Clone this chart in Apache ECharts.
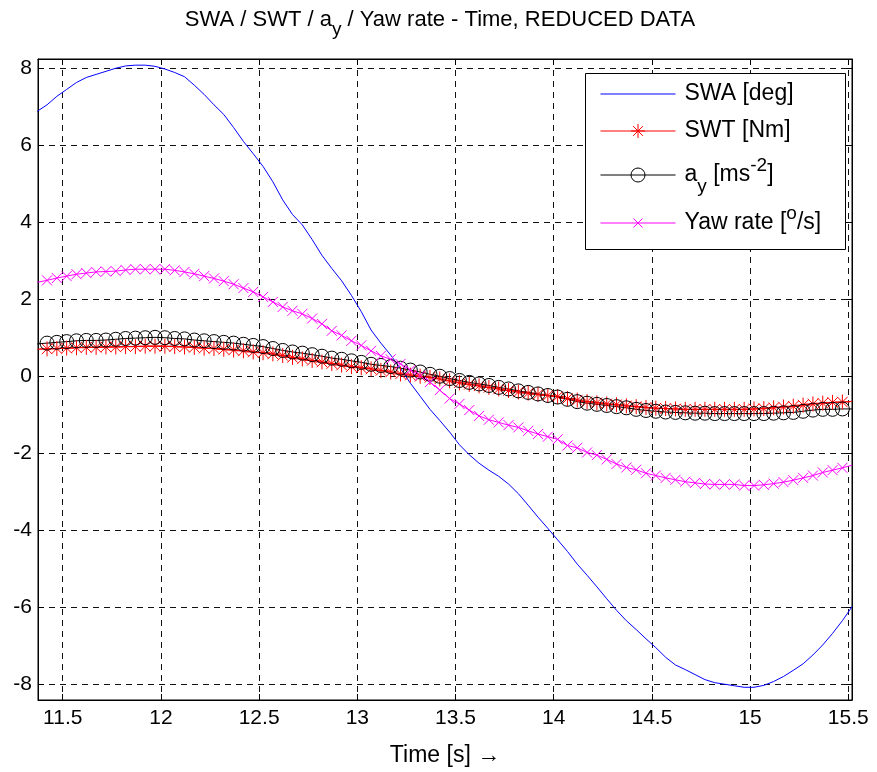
<!DOCTYPE html>
<html>
<head>
<meta charset="utf-8">
<title>SWA / SWT / ay / Yaw rate - Time</title>
<script src="https://cdn.jsdelivr.net/npm/echarts@6/dist/echarts.min.js"></script>
<style>
  html, body { margin: 0; padding: 0; background: #fff; }
  #chart { width: 877px; height: 772px; }
</style>
</head>
<body>
<div id="chart"></div>
<script>
// sample times [s], one every 0.05 s
const time = [
  11.37, 11.42, 11.47, 11.52, 11.57, 11.62, 11.67, 11.72, 11.77, 11.82,
  11.87, 11.92, 11.97, 12.02, 12.07, 12.12, 12.17, 12.22, 12.27, 12.32,
  12.37, 12.42, 12.47, 12.52, 12.57, 12.62, 12.67, 12.72, 12.77, 12.82,
  12.87, 12.92, 12.97, 13.02, 13.07, 13.12, 13.17, 13.22, 13.27, 13.32,
  13.37, 13.42, 13.47, 13.52, 13.57, 13.62, 13.67, 13.72, 13.77, 13.82,
  13.87, 13.92, 13.97, 14.02, 14.07, 14.12, 14.17, 14.22, 14.27, 14.32,
  14.37, 14.42, 14.47, 14.52, 14.57, 14.62, 14.67, 14.72, 14.77, 14.82,
  14.87, 14.92, 14.97, 15.02, 15.07, 15.12, 15.17, 15.22, 15.27, 15.32,
  15.37, 15.42, 15.47, 15.52
];

// steering wheel angle [deg]
const swa = [
  6.88, 7.05, 7.27, 7.45, 7.63, 7.76, 7.84, 7.92, 8.00, 8.06,
  8.08, 8.08, 8.05, 7.98, 7.89, 7.78, 7.56, 7.32, 7.05, 6.80,
  6.46, 6.10, 5.78, 5.45, 5.05, 4.58, 4.20, 3.93, 3.55, 3.14,
  2.80, 2.48, 2.10, 1.68, 1.20, 0.86, 0.55, 0.20, -0.18, -0.52,
  -0.86, -1.15, -1.45, -1.78, -2.04, -2.26, -2.44, -2.60, -2.80, -3.05,
  -3.35, -3.66, -3.95, -4.25, -4.55, -4.88, -5.17, -5.47, -5.78, -6.08,
  -6.35, -6.58, -6.82, -7.05, -7.30, -7.50, -7.62, -7.75, -7.88, -7.96,
  -8.00, -8.04, -8.08, -8.08, -8.03, -7.93, -7.80, -7.64, -7.47, -7.24,
  -6.98, -6.68, -6.35, -5.98
];

// steering wheel torque [Nm]
const swt = [
  0.70, 0.71, 0.72, 0.73, 0.74, 0.75, 0.75, 0.76, 0.76, 0.77,
  0.77, 0.78, 0.78, 0.78, 0.77, 0.76, 0.75, 0.73, 0.72, 0.70,
  0.68, 0.66, 0.63, 0.61, 0.58, 0.54, 0.49, 0.45, 0.41, 0.37,
  0.33, 0.29, 0.25, 0.22, 0.19, 0.15, 0.11, 0.06, 0.03, 0.00,
  -0.03, -0.07, -0.12, -0.17, -0.21, -0.25, -0.29, -0.33, -0.37, -0.41,
  -0.44, -0.47, -0.50, -0.53, -0.58, -0.62, -0.66, -0.69, -0.72, -0.74,
  -0.77, -0.79, -0.81, -0.83, -0.84, -0.85, -0.86, -0.86, -0.86, -0.86,
  -0.86, -0.86, -0.86, -0.85, -0.84, -0.82, -0.80, -0.78, -0.75, -0.72,
  -0.70, -0.68, -0.67, -0.65
];

// lateral acceleration [m/s^2]
const ay = [
  0.84, 0.86, 0.88, 0.90, 0.92, 0.93, 0.93, 0.94, 0.96, 0.98,
  0.99, 1.00, 1.01, 1.00, 0.98, 0.97, 0.94, 0.92, 0.90, 0.88,
  0.86, 0.83, 0.80, 0.77, 0.72, 0.67, 0.63, 0.60, 0.56, 0.52,
  0.47, 0.44, 0.40, 0.36, 0.31, 0.28, 0.25, 0.21, 0.16, 0.11,
  0.05, 0.00, -0.06, -0.11, -0.16, -0.20, -0.24, -0.29, -0.33, -0.38,
  -0.42, -0.46, -0.50, -0.54, -0.60, -0.66, -0.70, -0.73, -0.76, -0.79,
  -0.82, -0.86, -0.89, -0.91, -0.93, -0.94, -0.95, -0.96, -0.96, -0.97,
  -0.97, -0.97, -0.97, -0.97, -0.97, -0.96, -0.95, -0.94, -0.91, -0.88,
  -0.86, -0.86, -0.85, -0.85
];

// yaw rate [deg/s]
const yawRate = [
  2.44, 2.49, 2.55, 2.60, 2.65, 2.68, 2.71, 2.72, 2.73, 2.76,
  2.78, 2.78, 2.78, 2.78, 2.75, 2.71, 2.66, 2.60, 2.54, 2.47,
  2.39, 2.29, 2.19, 2.06, 1.93, 1.80, 1.70, 1.62, 1.50, 1.36,
  1.18, 1.06, 0.92, 0.80, 0.66, 0.53, 0.44, 0.32, 0.16, 0.02,
  -0.15, -0.36, -0.58, -0.72, -0.88, -1.03, -1.13, -1.20, -1.27, -1.33,
  -1.42, -1.50, -1.57, -1.64, -1.80, -1.86, -1.98, -2.05, -2.16, -2.28,
  -2.37, -2.43, -2.52, -2.58, -2.64, -2.69, -2.74, -2.77, -2.80, -2.81,
  -2.81, -2.81, -2.84, -2.84, -2.82, -2.79, -2.75, -2.70, -2.64, -2.58,
  -2.50, -2.44, -2.38, -2.31
];

const xRange = [11.374, 15.519];
const yRange = [-8.41, 8.24];

const FONT = '"Liberation Sans", Arial, Helvetica, sans-serif';
const gridDash = { color: '#111', width: 1, type: [6, 5] };

function pairs(values) {
  return time.map((t, i) => [t, values[i]]);
}

// marker shapes, MATLAB style
const starPath = 'path://M0,-1L0,1M-1,0L1,0M-0.7,-0.7L0.7,0.7M-0.7,0.7L0.7,-0.7';
const crossPath = 'path://M-1,-1L1,1M-1,1L1,-1';

const legendText = {
  'SWA [deg]': 'SWA [deg]',
  'SWT [Nm]': 'SWT [Nm]',
  'ay': 'a{sub|y} [ms{sup|-2}]',
  'yaw': 'Yaw rate [{sup|o}/s]'
};

const legendRich = {
  sub: { fontFamily: FONT, fontSize: 19, color: '#000', padding: [24, 0, 0, 0] },
  sup: { fontFamily: FONT, fontSize: 19, color: '#000', padding: [0, 0, 18, 0] }
};

function legendAt(name, top, icon, color) {
  return {
    data: [{ name: name, icon: icon }],
    left: 600,
    top: top,
    padding: 0,
    itemWidth: 75,
    itemHeight: 15,
    symbolKeepAspect: true,
    selectedMode: false,
    z: 6,
    itemStyle: { color: 'transparent', borderColor: color, borderWidth: 1 },
    formatter: (n) => legendText[n],
    textStyle: { fontFamily: FONT, fontSize: 23, color: '#000', padding: [0, 0, 0, 4], rich: legendRich }
  };
}

const chart = echarts.init(document.getElementById('chart'));

const option = {
  animation: false,
  backgroundColor: '#fff',
  title: {
    text: 'SWA / SWT / a{sub|y} / Yaw rate - Time, REDUCED DATA',
    left: 440,
    top: 0,
    padding: 0,
    textAlign: 'center',
    textStyle: {
      fontFamily: FONT, fontSize: 22, fontWeight: 'normal', color: '#000',
      rich: { sub: { fontFamily: FONT, fontSize: 19, color: '#000', padding: [20, 0, 0, 0] } }
    }
  },
  grid: {
    left: 38, right: 25, top: 59, bottom: 70,
    show: true, borderColor: '#000', borderWidth: 1, backgroundColor: '#fff'
  },
  legend: [
    legendAt('SWA [deg]', 82.5, 'path://M0,0L75,0L75,0.01', '#0000ff'),
    legendAt('SWT [Nm]', 119.5, 'path://M0,7L75,7M37.5,0L37.5,14M30.5,7L44.5,7M32.6,2.1L42.4,11.9M32.6,11.9L42.4,2.1', '#ff0000'),
    legendAt('ay', 156.5, 'path://M0,7L75,7M44.5,7A7,7,0,1,1,30.5,7A7,7,0,1,1,44.5,7', '#000000'),
    legendAt('yaw', 204.5, 'path://M0,4.5L75,4.5M33,0L42,9M33,9L42,0', '#ff00ff')
  ],
  graphic: [{
    type: 'rect',
    z: 5,
    shape: { x: 585.5, y: 73.5, width: 260, height: 176 },
    style: { fill: '#fff', stroke: '#000', lineWidth: 1 }
  }],
  xAxis: [{
    type: 'value',
    min: xRange[0],
    max: xRange[1],
    splitNumber: 8,
    name: 'Time [s] \u2192',
    nameLocation: 'middle',
    nameGap: 44,
    nameTextStyle: { fontFamily: FONT, fontSize: 23, color: '#000' },
    axisLine: { onZero: false, lineStyle: { color: '#000', width: 1 } },
    axisTick: { inside: true, length: 6, lineStyle: { color: '#000' } },
    axisLabel: { showMinLabel: false, showMaxLabel: false, margin: 8, fontFamily: FONT, fontSize: 21, color: '#000' },
    splitLine: { show: true, lineStyle: gridDash }
  }, {
    type: 'value',
    position: 'top',
    min: xRange[0],
    max: xRange[1],
    splitNumber: 8,
    axisLine: { onZero: false, lineStyle: { color: '#000', width: 1 } },
    axisTick: { inside: true, length: 6, lineStyle: { color: '#000' } },
    axisLabel: { show: false },
    splitLine: { show: false }
  }],
  yAxis: [{
    type: 'value',
    min: yRange[0],
    max: yRange[1],
    splitNumber: 8,
    axisLine: { onZero: false, lineStyle: { color: '#000', width: 1 } },
    axisTick: { inside: true, length: 6, lineStyle: { color: '#000' } },
    axisLabel: { showMinLabel: false, showMaxLabel: false, margin: 6, fontFamily: FONT, fontSize: 21, color: '#000' },
    splitLine: { show: true, lineStyle: gridDash }
  }, {
    type: 'value',
    position: 'right',
    min: yRange[0],
    max: yRange[1],
    splitNumber: 8,
    axisLine: { onZero: false, lineStyle: { color: '#000', width: 1 } },
    axisTick: { inside: true, length: 6, lineStyle: { color: '#000' } },
    axisLabel: { show: false },
    splitLine: { show: false }
  }],
  series: [
    {
      name: 'SWA [deg]',
      type: 'line',
      data: pairs(swa),
      showSymbol: false,
      symbol: 'none',
      lineStyle: { color: '#0000ff', width: 1 },
      itemStyle: { color: '#0000ff' }
    },
    {
      name: 'SWT [Nm]',
      type: 'line',
      data: pairs(swt),
      symbol: starPath,
      symbolSize: 15,
      showAllSymbol: true,
      lineStyle: { color: '#ff0000', width: 1 },
      itemStyle: { color: 'transparent', borderColor: '#ff0000', borderWidth: 1 }
    },
    {
      name: 'ay',
      type: 'line',
      data: pairs(ay),
      symbol: 'circle',
      symbolSize: 14,
      showAllSymbol: true,
      lineStyle: { color: '#000000', width: 1 },
      itemStyle: { color: 'transparent', borderColor: '#000000', borderWidth: 1 }
    },
    {
      name: 'yaw',
      type: 'line',
      data: pairs(yawRate),
      symbol: crossPath,
      symbolSize: 10,
      showAllSymbol: true,
      lineStyle: { color: '#ff00ff', width: 1 },
      itemStyle: { color: 'transparent', borderColor: '#ff00ff', borderWidth: 1 }
    }
  ]
};

chart.setOption(option);

window.addEventListener('resize', () => {
  chart.resize();
});
</script>
</body>
</html>
